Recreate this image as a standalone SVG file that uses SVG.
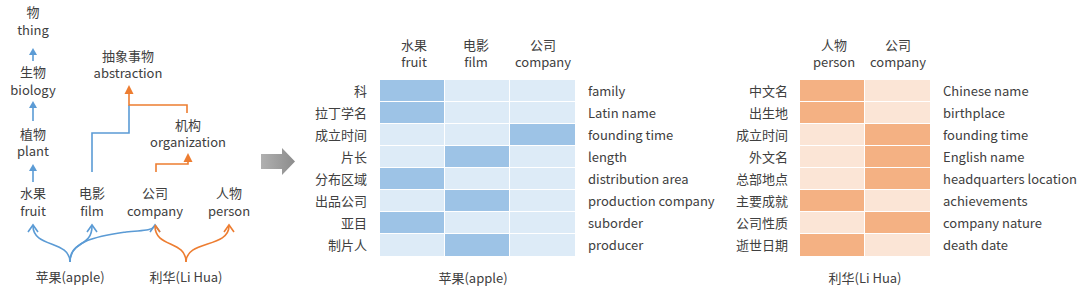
<svg xmlns="http://www.w3.org/2000/svg" width="1080" height="293" viewBox="0 0 1080 293">
<defs>
<style>
text{font-family:"Noto Sans CJK SC","Noto Sans",sans-serif;font-size:13px;fill:#404040;}
.m{text-anchor:middle;}
.r{text-anchor:end;}
.b{stroke:#5B9BD5;stroke-width:1.6;fill:none;}
.o{stroke:#ED7D31;stroke-width:1.6;fill:none;}
.bd{fill:#9DC3E6;}
.bl{fill:#DDEBF7;}
.od{fill:#F4B183;}
.ol{fill:#FBE5D6;}
</style>
<linearGradient id="g" x1="0" y1="0" x2="1" y2="0"><stop offset="0" stop-color="#B0B0B0"/><stop offset="1" stop-color="#8C8C8C"/></linearGradient>
</defs>
<g id="tree-nodes">
<g id="n-thing"><text class="m" x="33" y="17">物</text><text class="m" x="33" y="35">thing</text></g>
<g id="n-biology"><text class="m" x="33" y="77">生物</text><text class="m" x="33" y="95">biology</text></g>
<g id="n-plant"><text class="m" x="33" y="139">植物</text><text class="m" x="33" y="156">plant</text></g>
<g id="n-fruit"><text class="m" x="33" y="198">水果</text><text class="m" x="33" y="216">fruit</text></g>
<g id="n-film"><text class="m" x="92" y="198">电影</text><text class="m" x="92" y="216">film</text></g>
<g id="n-company"><text class="m" x="155" y="198">公司</text><text class="m" x="155" y="216">company</text></g>
<g id="n-person"><text class="m" x="229" y="198">人物</text><text class="m" x="229" y="216">person</text></g>
<g id="n-abstraction"><text class="m" x="128" y="61">抽象事物</text><text class="m" x="128" y="78">abstraction</text></g>
<g id="n-organization"><text class="m" x="188" y="130">机构</text><text class="m" x="188" y="147">organization</text></g>
<g id="n-apple"><text class="m" x="70" y="282">苹果(apple)</text></g>
<g id="n-lihua"><text class="m" x="186" y="282">利华(Li Hua)</text></g>
</g>
<g id="connectors">
<line class="b" x1="33" y1="61" x2="33" y2="54"/>
<path d="M33,48L37,55L29,55z" fill="#5B9BD5"/>
<line class="b" x1="33" y1="121" x2="33" y2="107"/>
<path d="M33,101L37,108L29,108z" fill="#5B9BD5"/>
<line class="b" x1="33" y1="182" x2="33" y2="170"/>
<path d="M33,164L37,171L29,171z" fill="#5B9BD5"/>
<path class="b" d="M92,172V133H129V105"/>
<path class="o" d="M187,113V105H129V93"/>
<path d="M129,85L133.5,94L124.5,94z" fill="#ED7D31"/>
<path class="o" d="M156,172V164H188V161"/>
<path d="M188,153L192.5,162L183.5,162z" fill="#ED7D31"/>
<path class="b" d="M70,262C70,240 33,248 33,226"/>
<path class="b" d="M70,262C70,240 92,248 92,226"/>
<path class="b" d="M70,262C70,240 100,236 126,232C140,230 150,232 155,226"/>
<path class="b" d="M28,232L33,225L38,232M87,232L92,225L97,232M150,232L155,225L160,232"/>
<path class="o" d="M186,262C186,240 155,248 155,226"/>
<path class="o" d="M186,262C186,240 229,248 229,226"/>
<path class="o" d="M224,232L229,225L234,232M160,232L155,225"/>
</g>
<g id="arrow">
<path d="M261,154H282V148L295,161.5L282,175V169H261z" fill="url(#g)"/>
</g>
<g id="table-apple">
<text class="m" x="414" y="50">水果</text><text class="m" x="414" y="67">fruit</text>
<text class="m" x="476" y="50">电影</text><text class="m" x="476" y="67">film</text>
<text class="m" x="543" y="50">公司</text><text class="m" x="543" y="67">company</text>
<g id="cells-apple">
<rect class="bd" x="380" y="80" width="64" height="21"/><rect class="bl" x="445" y="80" width="64" height="21"/><rect class="bl" x="510" y="80" width="65" height="21"/>
<rect class="bd" x="380" y="102" width="64" height="21"/><rect class="bl" x="445" y="102" width="64" height="21"/><rect class="bl" x="510" y="102" width="65" height="21"/>
<rect class="bl" x="380" y="124" width="64" height="21"/><rect class="bl" x="445" y="124" width="64" height="21"/><rect class="bd" x="510" y="124" width="65" height="21"/>
<rect class="bl" x="380" y="146" width="64" height="21"/><rect class="bd" x="445" y="146" width="64" height="21"/><rect class="bl" x="510" y="146" width="65" height="21"/>
<rect class="bd" x="380" y="168" width="64" height="21"/><rect class="bl" x="445" y="168" width="64" height="21"/><rect class="bl" x="510" y="168" width="65" height="21"/>
<rect class="bl" x="380" y="190" width="64" height="21"/><rect class="bd" x="445" y="190" width="64" height="21"/><rect class="bl" x="510" y="190" width="65" height="21"/>
<rect class="bd" x="380" y="212" width="64" height="21"/><rect class="bl" x="445" y="212" width="64" height="21"/><rect class="bl" x="510" y="212" width="65" height="21"/>
<rect class="bl" x="380" y="234" width="64" height="22"/><rect class="bd" x="445" y="234" width="64" height="22"/><rect class="bl" x="510" y="234" width="65" height="22"/>
</g>
<text class="r" x="367" y="95.5">科</text><text x="588" y="95.5">family</text>
<text class="r" x="367" y="117.5">拉丁学名</text><text x="588" y="117.5">Latin name</text>
<text class="r" x="367" y="139.5">成立时间</text><text x="588" y="139.5">founding time</text>
<text class="r" x="367" y="161.5">片长</text><text x="588" y="161.5">length</text>
<text class="r" x="367" y="183.5">分布区域</text><text x="588" y="183.5">distribution area</text>
<text class="r" x="367" y="205.5">出品公司</text><text x="588" y="205.5">production company</text>
<text class="r" x="367" y="227.5">亚目</text><text x="588" y="227.5">suborder</text>
<text class="r" x="367" y="249.5">制片人</text><text x="588" y="249.5">producer</text>
<text class="m" x="473" y="283">苹果(apple)</text>
</g>
<g id="table-lihua">
<text class="m" x="834" y="50">人物</text><text class="m" x="834" y="67">person</text>
<text class="m" x="898" y="50">公司</text><text class="m" x="898" y="67">company</text>
<g id="cells-lihua">
<rect class="od" x="800" y="80" width="64" height="21"/><rect class="ol" x="865" y="80" width="65" height="21"/>
<rect class="od" x="800" y="102" width="64" height="21"/><rect class="ol" x="865" y="102" width="65" height="21"/>
<rect class="ol" x="800" y="124" width="64" height="21"/><rect class="od" x="865" y="124" width="65" height="21"/>
<rect class="ol" x="800" y="146" width="64" height="21"/><rect class="od" x="865" y="146" width="65" height="21"/>
<rect class="ol" x="800" y="168" width="64" height="21"/><rect class="od" x="865" y="168" width="65" height="21"/>
<rect class="od" x="800" y="190" width="64" height="21"/><rect class="ol" x="865" y="190" width="65" height="21"/>
<rect class="ol" x="800" y="212" width="64" height="21"/><rect class="od" x="865" y="212" width="65" height="21"/>
<rect class="od" x="800" y="234" width="64" height="22"/><rect class="ol" x="865" y="234" width="65" height="22"/>
</g>
<text class="r" x="788" y="95.5">中文名</text><text x="943" y="95.5">Chinese name</text>
<text class="r" x="788" y="117.5">出生地</text><text x="943" y="117.5">birthplace</text>
<text class="r" x="788" y="139.5">成立时间</text><text x="943" y="139.5">founding time</text>
<text class="r" x="788" y="161.5">外文名</text><text x="943" y="161.5">English name</text>
<text class="r" x="788" y="183.5">总部地点</text><text x="943" y="183.5">headquarters location</text>
<text class="r" x="788" y="205.5">主要成就</text><text x="943" y="205.5">achievements</text>
<text class="r" x="788" y="227.5">公司性质</text><text x="943" y="227.5">company nature</text>
<text class="r" x="788" y="249.5">逝世日期</text><text x="943" y="249.5">death date</text>
<text class="m" x="865" y="283">利华(Li Hua)</text>
</g>
</svg>
